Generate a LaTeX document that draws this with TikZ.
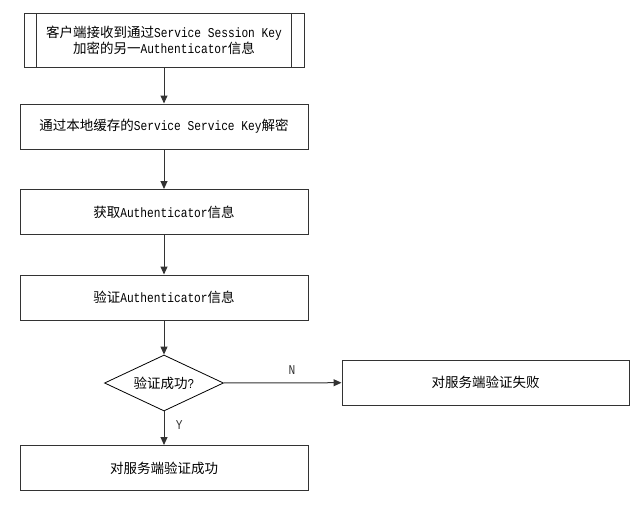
\documentclass[tikz,border=0pt]{standalone}
\usepackage{fontspec}
\setmainfont{Noto Sans CJK SC}
\newfontfamily\lat[FakeStretch=0.83]{Liberation Mono}
\usetikzlibrary{arrows.meta,shapes.geometric}
\newcommand{\en}[1]{{\lat #1}}
\tikzset{
  blk/.style={draw=black!80, line width=1pt, rectangle, minimum width=288pt, minimum height=45pt, inner sep=0pt, align=center},
  dec/.style={draw=black, line width=0.8pt, diamond, aspect=2.1, minimum width=119pt, minimum height=56pt, inner sep=0pt},
  arr/.style={-{Triangle[length=8pt,width=7pt]}, line width=1pt, black!80},
  lbl/.style={font=\lat\fontsize{13.5}{16}\selectfont},
}

\begin{document}
\begin{tikzpicture}[x=1pt,y=-1pt,font=\fontsize{13.5}{16.5}\selectfont]
  \useasboundingbox (0,0) rectangle (644,527);
  % main column
  \node[blk, minimum width=280pt, minimum height=53pt] (recv) at (164,40.5)
    {客户端接收到通过\en{Service Session Key}\\加密的另一\en{Authenticator}信息};
  \draw[black!80, line width=1pt] ([xshift=13pt]recv.north west) -- ([xshift=13pt]recv.south west);
  \draw[black!80, line width=1pt] ([xshift=-13pt]recv.north east) -- ([xshift=-13pt]recv.south east);
  \node[blk] (dec1) at (164,126.5) {通过本地缓存的\en{Service Service Key}解密};
  \node[blk] (get) at (164,212) {获取\en{Authenticator}信息};
  \node[blk] (chk) at (164,297.5) {验证\en{Authenticator}信息};
  \node[dec] (ok) at (164,383) {验证成功\en{?}};
  \node[blk] (yes) at (164,468) {对服务端验证成功};
  \node[blk, minimum width=287pt] (no) at (485.5,382.5) {对服务端验证失败};

  % arrows
  \draw[arr] (recv) -- (dec1);
  \draw[arr] (dec1) -- (get);
  \draw[arr] (get) -- (chk);
  \draw[arr] (chk) -- (ok);
  \draw[arr] (ok) -- (yes) node[lbl, pos=0.4, right=8pt] {Y};
  \draw[arr] (ok) -- (no) node[lbl, pos=0.58, above=4pt] {N};
\end{tikzpicture}
\end{document}
